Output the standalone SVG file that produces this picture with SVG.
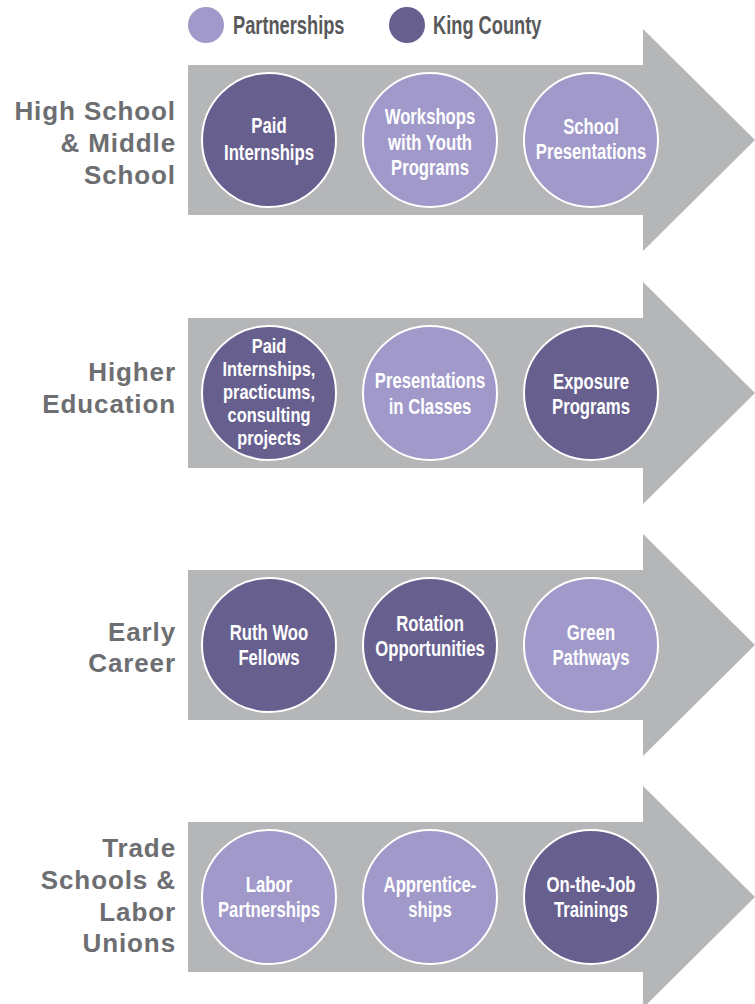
<svg xmlns="http://www.w3.org/2000/svg" width="755" height="1004" viewBox="0 0 755 1004">
<style>
.arrow{fill:#b5b6b8}
.kc{fill:#67608f;stroke:#fff;stroke-width:2}
.pt{fill:#a099ca;stroke:#fff;stroke-width:2}
.ct{font-family:"Liberation Sans",Arial,sans-serif;font-weight:bold;font-size:22px;fill:#fff;text-anchor:middle}
.sm{font-size:20.5px}
.lb{font-family:"Liberation Sans",Arial,sans-serif;font-weight:bold;font-size:26px;letter-spacing:0.9px;fill:#6d6e71;text-anchor:end}
.lg{font-family:"Liberation Sans",Arial,sans-serif;font-weight:bold;font-size:25px;fill:#58595b}
</style>
<g id="legend">
<circle cx="206" cy="25" r="18" fill="#a099ca"/>
<text class="lg" transform="translate(233,0) scale(0.73,1)" x="0" y="34">Partnerships</text>
<circle cx="407" cy="25" r="18" fill="#67608f"/>
<text class="lg" transform="translate(433,0) scale(0.73,1)" x="0" y="34">King County</text>
</g>
<g id="arrows">
<path id="arrow1" class="arrow" d="M188,65 H643 V29 L755,140 L643,251 V215 H188 Z"/>
<path id="arrow2" class="arrow" d="M188,318 H643 V282 L755,393 L643,504 V468 H188 Z"/>
<path id="arrow3" class="arrow" d="M188,570 H643 V534 L755,645 L643,756 V720 H188 Z"/>
<path id="arrow4" class="arrow" d="M188,822 H643 V786 L755,897 L643,1008 V972 H188 Z"/>
</g>
<g id="label1"><text class="lb" x="176" y="120">High School</text><text class="lb" x="176" y="152">&amp; Middle</text><text class="lb" x="176" y="184">School</text></g>
<g id="label2"><text class="lb" x="176" y="381">Higher</text><text class="lb" x="176" y="413">Education</text></g>
<g id="label3"><text class="lb" x="176" y="641">Early</text><text class="lb" x="176" y="672">Career</text></g>
<g id="label4"><text class="lb" x="176" y="857">Trade</text><text class="lb" x="176" y="889">Schools &amp;</text><text class="lb" x="176" y="921">Labor</text><text class="lb" x="176" y="952">Unions</text></g>

<g id="n1a"><circle class="kc" cx="269" cy="140" r="67"/><g transform="translate(269,0) scale(0.76,1)"><text class="ct" x="0" y="133">Paid</text><text class="ct" x="0" y="160">Internships</text></g></g>
<g id="n1b"><circle class="pt" cx="430" cy="140" r="67"/><g transform="translate(430,0) scale(0.76,1)"><text class="ct" x="0" y="124">Workshops</text><text class="ct" x="0" y="150">with Youth</text><text class="ct" x="0" y="175">Programs</text></g></g>
<g id="n1c"><circle class="pt" cx="591" cy="140" r="67"/><g transform="translate(591,0) scale(0.76,1)"><text class="ct" x="0" y="134">School</text><text class="ct" x="0" y="159">Presentations</text></g></g>

<g id="n2a"><circle class="kc" cx="269" cy="393" r="67"/><g transform="translate(269,0) scale(0.8,1)"><text class="ct sm" x="0" y="353">Paid</text><text class="ct sm" x="0" y="376">Internships,</text><text class="ct sm" x="0" y="399">practicums,</text><text class="ct sm" x="0" y="422">consulting</text><text class="ct sm" x="0" y="445">projects</text></g></g>
<g id="n2b"><circle class="pt" cx="430" cy="393" r="67"/><g transform="translate(430,0) scale(0.76,1)"><text class="ct" x="0" y="388">Presentations</text><text class="ct" x="0" y="414">in Classes</text></g></g>
<g id="n2c"><circle class="kc" cx="591" cy="393" r="67"/><g transform="translate(591,0) scale(0.76,1)"><text class="ct" x="0" y="389">Exposure</text><text class="ct" x="0" y="414">Programs</text></g></g>

<g id="n3a"><circle class="kc" cx="269" cy="645" r="67"/><g transform="translate(269,0) scale(0.76,1)"><text class="ct" x="0" y="640">Ruth Woo</text><text class="ct" x="0" y="665">Fellows</text></g></g>
<g id="n3b"><circle class="kc" cx="430" cy="645" r="67"/><g transform="translate(430,0) scale(0.76,1)"><text class="ct" x="0" y="631">Rotation</text><text class="ct" x="0" y="656">Opportunities</text></g></g>
<g id="n3c"><circle class="pt" cx="591" cy="645" r="67"/><g transform="translate(591,0) scale(0.76,1)"><text class="ct" x="0" y="640">Green</text><text class="ct" x="0" y="665">Pathways</text></g></g>

<g id="n4a"><circle class="pt" cx="269" cy="897" r="67"/><g transform="translate(269,0) scale(0.76,1)"><text class="ct" x="0" y="892">Labor</text><text class="ct" x="0" y="917">Partnerships</text></g></g>
<g id="n4b"><circle class="pt" cx="430" cy="897" r="67"/><g transform="translate(430,0) scale(0.76,1)"><text class="ct" x="0" y="892">Apprentice-</text><text class="ct" x="0" y="917">ships</text></g></g>
<g id="n4c"><circle class="kc" cx="591" cy="897" r="67"/><g transform="translate(591,0) scale(0.76,1)"><text class="ct" x="0" y="892">On-the-Job</text><text class="ct" x="0" y="917">Trainings</text></g></g>
</svg>
